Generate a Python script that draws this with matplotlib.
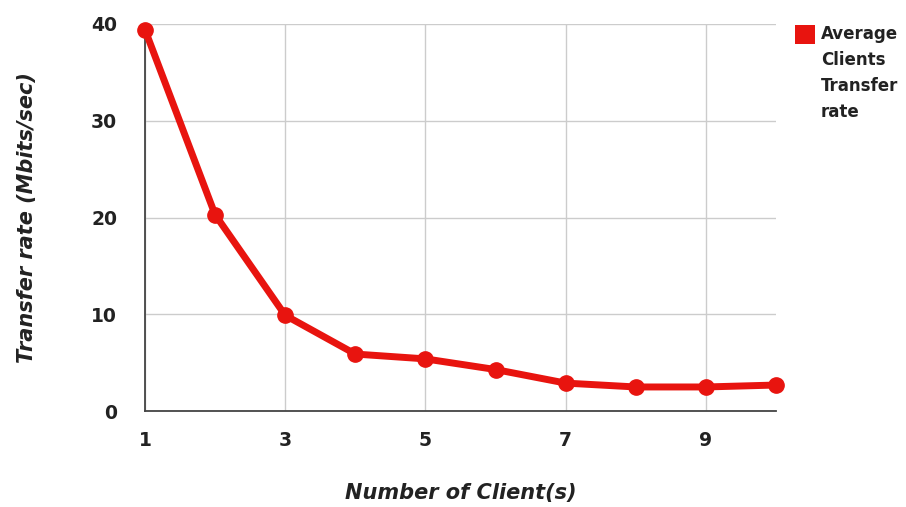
import matplotlib.pyplot as plt
from matplotlib.patches import Rectangle

clients = [1, 2, 3, 4, 5, 6, 7, 8, 9, 10]
transfer_rate = [39.4, 20.3, 9.9, 5.9, 5.4, 4.3, 2.9, 2.5, 2.5, 2.7]
x_ticks = [1, 3, 5, 7, 9]
y_ticks = [0, 10, 20, 30, 40]
series_name = 'Average\nClients\nTransfer\nrate'

red = '#e8140f'
dark = '#222222'

plt.rcParams['font.family'] = ['DejaVu Sans']

fig = plt.figure(figsize=(9.06, 5.07), dpi=100)
ax = fig.add_axes([0.160, 0.189, 0.6965, 0.764])

ax.plot(clients, transfer_rate, color=red, linewidth=5, marker='o',
        markersize=11, solid_capstyle='round', zorder=3, clip_on=False)

ax.set_xlim(1, 10)
ax.set_ylim(0, 40)
ax.set_xticks(x_ticks)
ax.set_yticks(y_ticks)
ax.grid(True, color='#cccccc', linewidth=1)
ax.set_axisbelow(True)

for side in ['top', 'right']:
    ax.spines[side].set_visible(False)
for side in ['left', 'bottom']:
    ax.spines[side].set_color('#444444')
    ax.spines[side].set_linewidth(1.3)

ax.tick_params(length=0, labelsize=13.5, colors=dark)
ax.tick_params(axis='y', pad=20)
ax.tick_params(axis='x', pad=14)
for lbl in ax.get_xticklabels() + ax.get_yticklabels():
    lbl.set_fontweight('bold')

ax.set_xlabel('Number of Client(s)', fontsize=15, fontweight='bold',
              fontstyle='italic', color=dark, labelpad=24)
ax.set_ylabel('Transfer rate (Mbits/sec)', fontsize=15, fontweight='bold',
              fontstyle='italic', color=dark, labelpad=39)

# legend drawn by hand so the swatch sits beside the first line
fig.patches.append(Rectangle((795 / 906, 1 - 44 / 507), 20 / 906, 19 / 507,
                             transform=fig.transFigure, facecolor=red,
                             edgecolor='none'))
fig.text(821 / 906, 1 - 25 / 507, series_name, ha='left', va='top',
         fontsize=12, fontweight='bold', color=dark, linespacing=1.58)

fig.savefig('out.png', dpi=100)
